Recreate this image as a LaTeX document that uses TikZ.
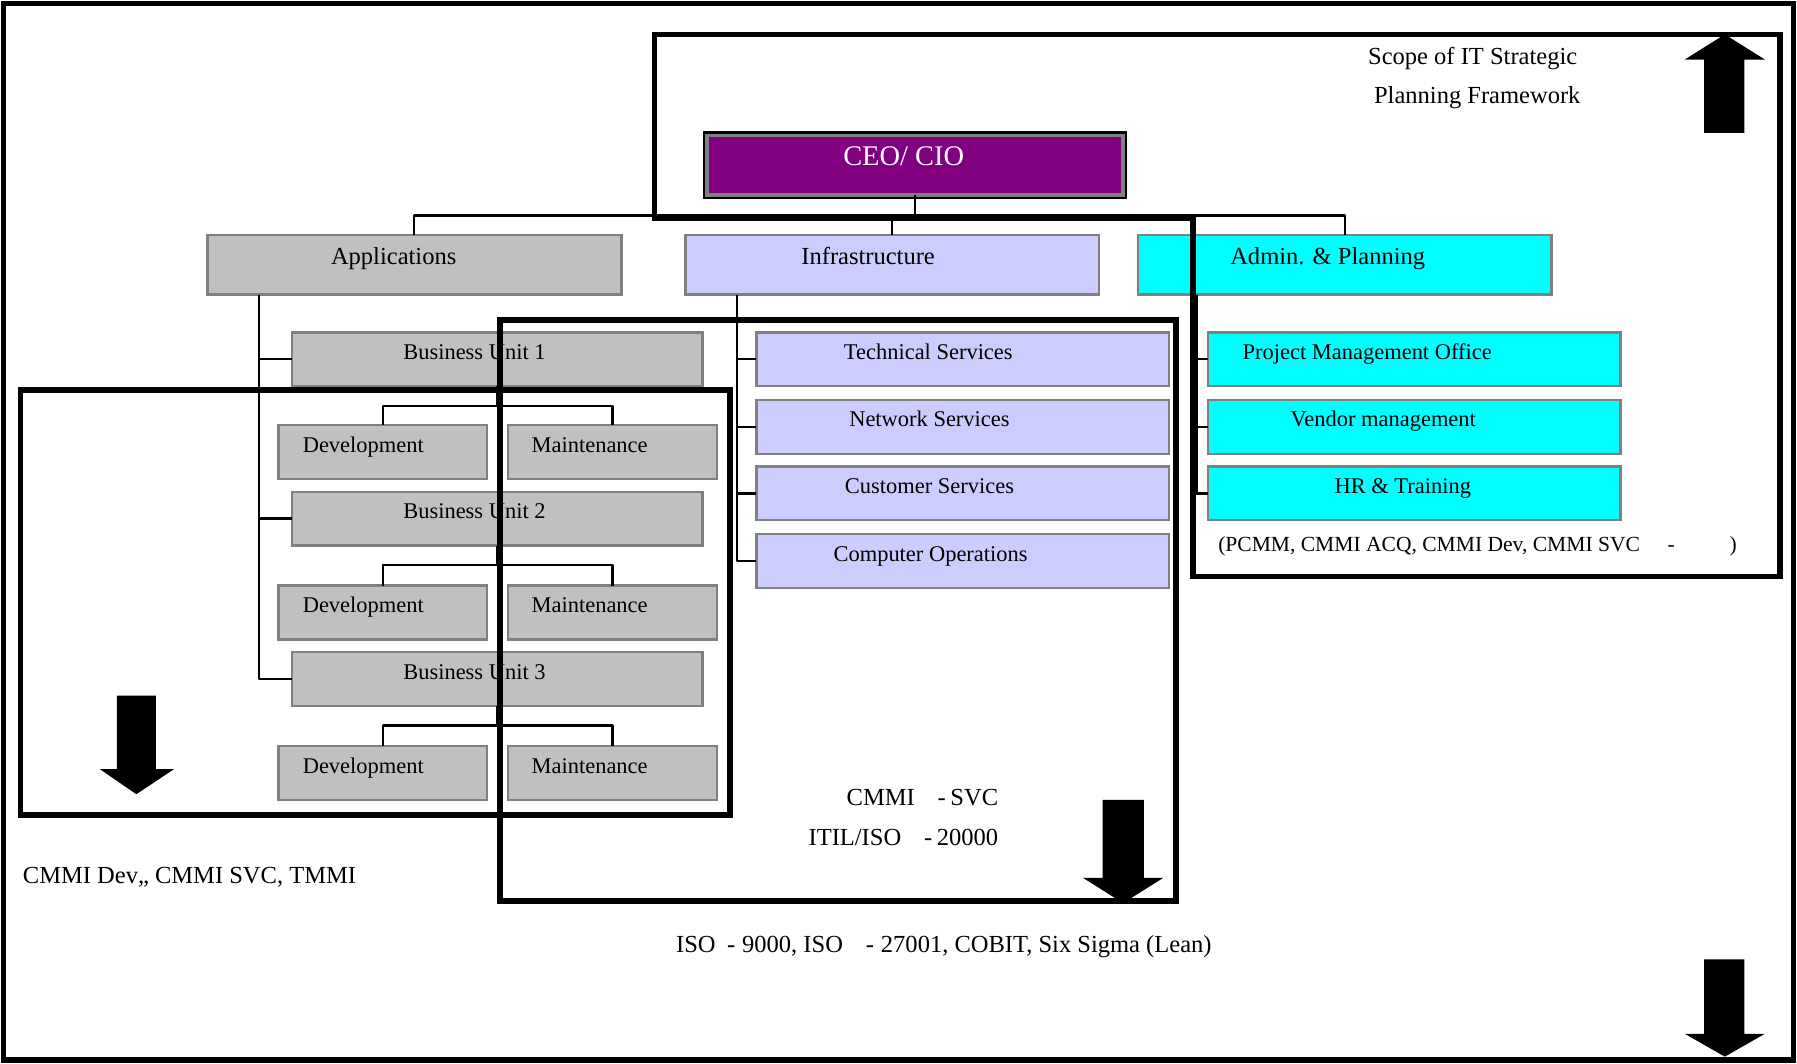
\documentclass[tikz,border=0pt]{standalone}
\usepackage{fontspec}
\setmainfont{Liberation Serif}
\usetikzlibrary{calc}
\begin{document}
\begin{tikzpicture}[x=0.5pt,y=-0.5pt,
	box/.style={draw=borderColor,line width=1pt,inner sep=0pt,outer sep=0pt,minimum width=179pt,minimum height=23.5pt},
	topbox/.style={box,line width=1.2pt,minimum width=180.5pt,minimum height=26pt},
	subbox/.style={box,minimum width=91pt},
	boxtext/.style={inner sep=0pt,outer sep=0pt,text height=1em,text depth=1em,font=\fontsize{9.8}{12}\selectfont},
	toptext/.style={boxtext,font=\fontsize{10.7}{13}\selectfont},
	conn/.style={draw=black,line width=1pt,line join=round},
	frame/.style={draw=black,line width=2.5pt,line join=miter},
	note/.style={inner sep=0pt,outer sep=0pt,font=\fontsize{10.7}{13}\selectfont}]
\definecolor{fillColor}{RGB}{255,255,255}
\definecolor{borderColor}{RGB}{128,128,128}
\definecolor{ceoColor}{RGB}{128,0,128}
\definecolor{appColor}{RGB}{192,192,192}
\definecolor{infraColor}{RGB}{204,204,255}
\definecolor{adminColor}{RGB}{0,255,255}
\path[use as bounding box,fill=fillColor] (0,0) rectangle (1568,928);

\node[topbox,fill=ceoColor,minimum width=181.5pt,line width=1.5pt,preaction={draw=black,line width=3.5pt},
	label={[toptext,text=white,font=\fontsize{12.4}{15}\selectfont,xshift=-5pt]center:CEO/ CIO}] (ceo) at (798.5,144) {};

\node[topbox,fill=appColor,label={[toptext,xshift=-9pt]center:Applications}] (apps) at (361.5,231) {};
\node[topbox,fill=infraColor,label={[toptext,xshift=-10.5pt]center:Infrastructure}] (infra) at (778.5,231) {};
\node[topbox,fill=adminColor,label={[toptext,xshift=-7.5pt]center:Admin. \& Planning}] (admin) at (1173.5,231) {};

\node[box,fill=appColor,label={[boxtext,xshift=-10pt]center:Business Unit 1}] (bu1) at (434,313.5) {};
\node[subbox,fill=appColor,label={[boxtext,xshift=-8.5pt]center:Development}] (dev1) at (334,394.5) {};
\node[subbox,fill=appColor,label={[boxtext,xshift=-10pt]center:Maintenance}] (mnt1) at (534.5,394.5) {};
\node[box,fill=appColor,label={[boxtext,xshift=-10pt]center:Business Unit 2}] (bu2) at (434,452.5) {};
\node[subbox,fill=appColor,label={[boxtext,xshift=-8.5pt]center:Development}] (dev2) at (334,534.5) {};
\node[subbox,fill=appColor,label={[boxtext,xshift=-10pt]center:Maintenance}] (mnt2) at (534.5,534.5) {};
\node[box,fill=appColor,label={[boxtext,xshift=-10pt]center:Business Unit 3}] (bu3) at (434,592.5) {};
\node[subbox,fill=appColor,label={[boxtext,xshift=-8.5pt]center:Development}] (dev3) at (334,674.5) {};
\node[subbox,fill=appColor,label={[boxtext,xshift=-10pt]center:Maintenance}] (mnt3) at (534.5,674.5) {};

\node[box,fill=infraColor,minimum width=180pt,label={[boxtext,xshift=-15pt]center:Technical Services}] (tech) at (840,313.5) {};
\node[box,fill=infraColor,minimum width=180pt,label={[boxtext,xshift=-14.5pt]center:Network Services}] (net) at (840,372.5) {};
\node[box,fill=infraColor,minimum width=180pt,label={[boxtext,xshift=-14.5pt]center:Customer Services}] (cust) at (840,430.5) {};
\node[box,fill=infraColor,minimum width=180pt,label={[boxtext,xshift=-14pt]center:Computer Operations}] (comp) at (840,489.5) {};

\node[box,fill=adminColor,minimum width=180pt,label={[boxtext,xshift=-20.5pt]center:Project Management Office}] (pmo) at (1234,313.5) {};
\node[box,fill=adminColor,minimum width=180pt,label={[boxtext,xshift=-13.5pt]center:Vendor management}] (vend) at (1234,372.5) {};
\node[box,fill=adminColor,minimum width=180pt,label={[boxtext,xshift=-5pt]center:HR \& Training}] (hr) at (1234,430.5) {};

\draw[conn] (ceo.south) -- ++(0,18) -| (apps.north);
\draw[conn] (ceo.south) -- ++(0,18) -| (infra.north);
\draw[conn] (ceo.south) -- ++(0,18) -| (admin.north);

\draw[conn] ($(apps.south west)+(45,0)$) |- (bu1.west);
\draw[conn] ($(apps.south west)+(45,0)$) |- (bu2.west);
\draw[conn] ($(apps.south west)+(45,0)$) |- (bu3.west);

\draw[conn] (bu1.south) -- ++(0,17) -| (dev1.north);
\draw[conn] (bu1.south) -- ++(0,17) -| (mnt1.north);
\draw[conn] (bu2.south) -- ++(0,17) -| (dev2.north);
\draw[conn] (bu2.south) -- ++(0,17) -| (mnt2.north);
\draw[conn] (bu3.south) -- ++(0,17) -| (dev3.north);
\draw[conn] (bu3.south) -- ++(0,17) -| (mnt3.north);

\draw[conn] ($(infra.south west)+(45,0)$) |- (tech.west);
\draw[conn] ($(infra.south west)+(45,0)$) |- (net.west);
\draw[conn] ($(infra.south west)+(45,0)$) |- (cust.west);
\draw[conn] ($(infra.south west)+(45,0)$) |- (comp.west);

\draw[conn] ($(admin.south west)+(51,0)$) |- (pmo.west);
\draw[conn] ($(admin.south west)+(51,0)$) |- (vend.west);
\draw[conn] ($(admin.south west)+(51,0)$) |- (hr.west);

\draw[frame] (571,30) --
	(1553,30) --
	(1553,503) --
	(1041,503) --
	(1041,190) --
	(571,190) --
	cycle;

\draw[frame] (436,279) rectangle (1026,786);

\draw[frame] (18,340) rectangle (637,711);

\draw[frame] (3,3) rectangle (1565,925);

\path[fill=black,line join=round] (1487,116) --
	(1487,52) --
	(1470,52) --
	(1505,30) --
	(1540,52) --
	(1522,52) --
	(1522,116) --
	cycle;

\path[fill=black,line join=round] (102,607) --
	(136,607) --
	(136,671) --
	(152,671) --
	(119,693) --
	(87,671) --
	(102,671) --
	cycle;

\path[fill=black,line join=round] (962,698) --
	(998,698) --
	(998,766) --
	(1015,766) --
	(980,788) --
	(945,766) --
	(962,766) --
	cycle;

\path[fill=black,line join=round] (1487,837) --
	(1522,837) --
	(1522,902) --
	(1540,902) --
	(1505,922) --
	(1470,902) --
	(1487,902) --
	cycle;

\node[note,anchor=base] (scope1) at (1285,56) {Scope of IT Strategic};

\node[note,anchor=base] (scope2) at (1289,90) {Planning Framework};

\node[note,anchor=base west,font=\fontsize{9.4}{11}\selectfont] (adminstd) at (1063,481) {(PCMM, CMMI ACQ, CMMI Dev, CMMI SVC\hspace{12pt}-\hspace{24pt})};

\node[note,anchor=base west] (appstd) at (20,771) {CMMI Dev,, CMMI SVC, TMMI};

\node[note,anchor=base east] (infrastd1) at (871,703) {CMMI\hspace{10pt}-\hspace{2pt}SVC};

\node[note,anchor=base east] (infrastd2) at (871,738) {ITIL/ISO\hspace{10pt}-\hspace{2pt}20000};

\node[note,anchor=base west] (allstd) at (590,831) {ISO\hspace{5pt}-\hspace{3pt}9000, ISO\hspace{10pt}-\hspace{3pt}27001, COBIT, Six Sigma (Lean)};
\end{tikzpicture}
\end{document}
